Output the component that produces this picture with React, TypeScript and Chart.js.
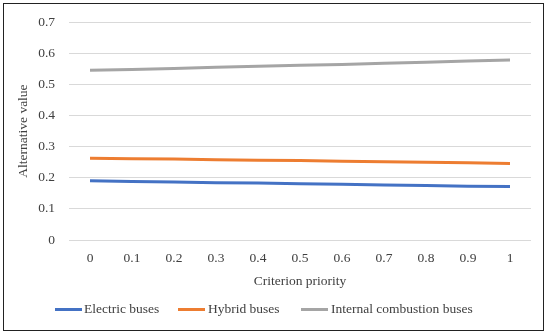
import React, { useEffect, useRef } from "react";
import { Chart, registerables } from "chart.js";

Chart.register(...registerables);

const categories = ["0", "0.1", "0.2", "0.3", "0.4", "0.5", "0.6", "0.7", "0.8", "0.9", "1"];
const electric = [0.19, 0.188, 0.186, 0.184, 0.183, 0.181, 0.179, 0.177, 0.175, 0.173, 0.172];
const hybrid = [0.263, 0.261, 0.26, 0.258, 0.256, 0.255, 0.253, 0.251, 0.25, 0.248, 0.246];
const combustion = [0.545, 0.548, 0.551, 0.555, 0.558, 0.561, 0.564, 0.568, 0.571, 0.575, 0.578];
const seriesNames = ["Electric buses", "Hybrid buses", "Internal combustion buses"];
const colors = ["#4472C4", "#ED7D31", "#A5A5A5"];

const FONT = "'Liberation Serif', 'DejaVu Serif', serif";
const FS = 13.5;

const borderPlugin = {
  id: "outerBorder",
  afterDraw(chart: any) {
    const ctx = chart.ctx;
    ctx.save();
    ctx.strokeStyle = "#222";
    ctx.lineWidth = 1;
    ctx.strokeRect(3.5, 3.5, 540, 327);
    ctx.restore();
  },
};

export default function App() {
  const ref = useRef<HTMLCanvasElement | null>(null);
  useEffect(() => {
    if (!ref.current) return;
    const datasets = [electric, hybrid, combustion].map((d, i) => ({
      label: seriesNames[i],
      data: d,
      borderColor: colors[i],
      backgroundColor: colors[i],
      borderWidth: 3,
      pointRadius: 0,
      tension: 0,
    }));
    const chart = new Chart(ref.current, {
      type: "line",
      data: { labels: categories, datasets },
      plugins: [borderPlugin],
      options: {
        animation: false,
        responsive: false,
        maintainAspectRatio: false,
        layout: { padding: { left: 11, right: 19, top: 22, bottom: 41 } },
        plugins: { legend: { display: false }, tooltip: { enabled: false } },
        scales: {
          x: {
            offset: true,
            grid: { display: false, drawTicks: false },
            border: { display: false },
            ticks: { padding: 10, color: "#404040", font: { family: FONT, size: FS }, maxRotation: 0 },
            title: { display: true, text: "Criterion priority", color: "#404040", font: { family: FONT, size: FS } },
            afterFit: (s: any) => { s.height = 54; },
          },
          y: {
            min: 0,
            max: 0.7,
            ticks: { stepSize: 0.1, padding: 14, color: "#404040", font: { family: FONT, size: FS }, callback: (v: any) => String(Math.round(Number(v) * 10) / 10) },
            grid: { color: "#D9D9D9", lineWidth: 1, drawTicks: false },
            border: { display: false },
            title: { display: true, text: "Alternative value", color: "#404040", font: { family: FONT, size: FS } },
            afterFit: (s: any) => { s.width = 58; },
          },
        },
      },
    });
    return () => chart.destroy();
  }, []);

  const legendItems = [
    { x: 55, textX: 84 },
    { x: 178, textX: 208 },
    { x: 301, textX: 331 },
  ];

  return (
    <div style={{ position: "fixed", left: 0, top: 0, width: 550, height: 335, background: "#fff" }}>
      <canvas ref={ref} width={550} height={335} style={{ display: "block" }} />
      {legendItems.map((it, i) => (
        <React.Fragment key={i}>
          <div style={{ position: "absolute", left: it.x, top: 308, width: 27, height: 3, background: colors[i] }} />
          <div style={{ position: "absolute", left: it.textX, top: 300, fontFamily: FONT, fontSize: FS, color: "#404040", lineHeight: "18px", whiteSpace: "nowrap" }}>
            {seriesNames[i]}
          </div>
        </React.Fragment>
      ))}
    </div>
  );
}
